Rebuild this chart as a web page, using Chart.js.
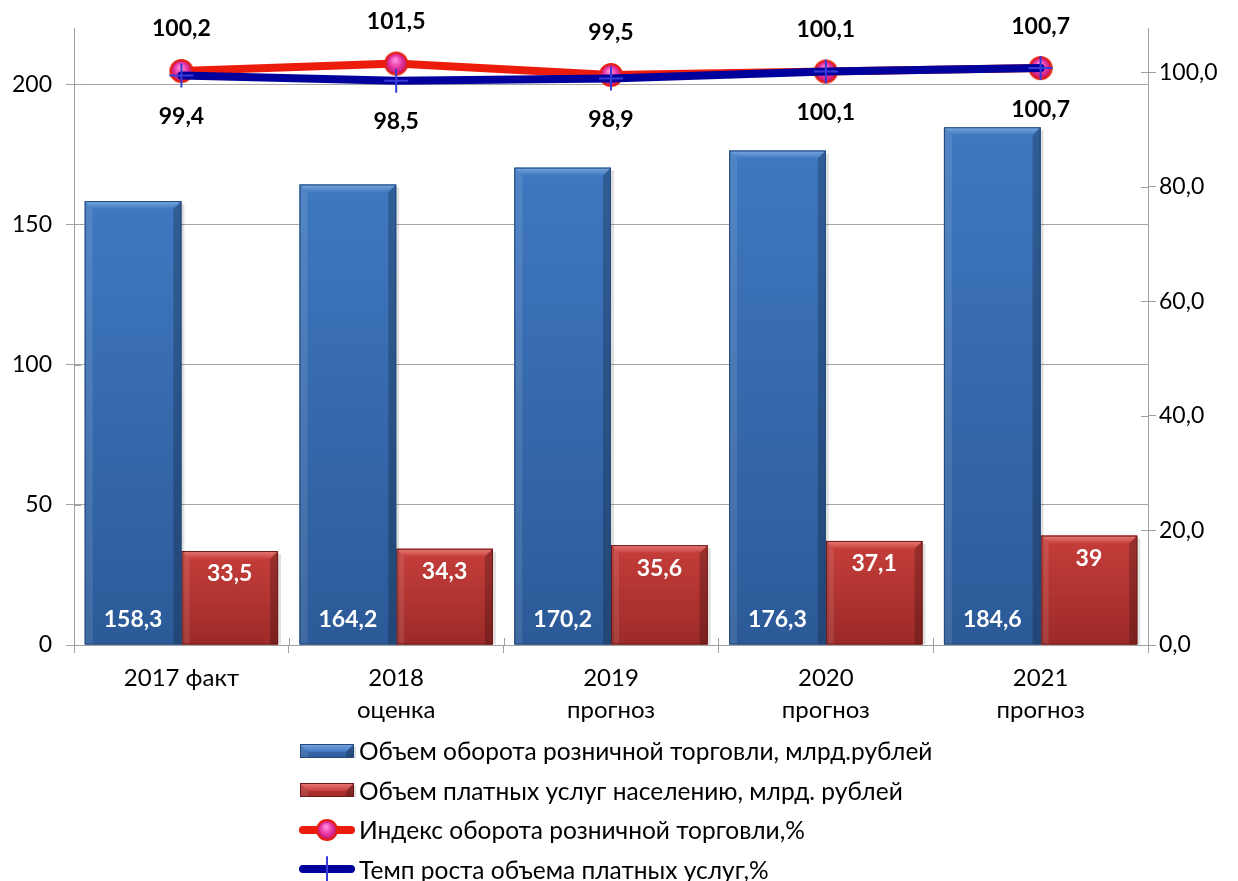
<!DOCTYPE html>
<html>
<head>
<meta charset="utf-8">
<script src="https://cdn.jsdelivr.net/npm/chart.js@4"></script>
<style>
  html, body { margin: 0; padding: 0; background: #fff; }
  #wrap { position: relative; width: 1238px; height: 881px; font-family: Lato, "Noto Sans", sans-serif; }
  #legend { position: absolute; left: 298px; top: 731px; }
  .li { display: flex; align-items: center; height: 39.5px; font-size: 24.5px; color: #000; white-space: nowrap; }
  .li canvas { margin-right: 3px; }
</style>
</head>
<body>
<div id="wrap">
  <canvas id="c" width="1238" height="881"></canvas>
  <div id="legend"></div>
</div>
<script>
const categories = [["2017 факт"], ["2018", "оценка"], ["2019", "прогноз"], ["2020", "прогноз"], ["2021", "прогноз"]];
const retailVolume = [158.3, 164.2, 170.2, 176.3, 184.6];
const servicesVolume = [33.5, 34.3, 35.6, 37.1, 39];
const retailIndex = [100.2, 101.5, 99.5, 100.1, 100.7];
const servicesGrowth = [99.4, 98.5, 98.9, 100.1, 100.7];
const leftTicks = [0, 50, 100, 150, 200];
const rightTicks = [0, 20, 40, 60, 80, 100];
const seriesNames = [
  "Объем оборота розничной торговли, млрд.рублей",
  "Объем платных услуг населению, млрд. рублей",
  "Индекс оборота розничной торговли,%",
  "Темп роста объема платных услуг,%"
];

const FONT = 'Lato, "Noto Sans", sans-serif';
const fmt = v => String(v).replace('.', ',');

function makeBall(r) {
  const s = r * 2 + 4;
  const cv = document.createElement('canvas');
  cv.width = s; cv.height = s;
  const g = cv.getContext('2d');
  const c = s / 2;
  const grad = g.createRadialGradient(c - r * 0.1, c - r * 0.35, r * 0.1, c, c, r);
  grad.addColorStop(0, '#ff8ad8');
  grad.addColorStop(0.5, '#e83aa8');
  grad.addColorStop(1, '#c01060');
  g.beginPath(); g.arc(c, c, r, 0, Math.PI * 2);
  g.fillStyle = grad; g.fill();
  g.lineWidth = 2; g.strokeStyle = '#e8200c'; g.stroke();
  return cv;
}
const ball = makeBall(11);

const barStyles = [
  { base: '#3a70b5', light: '#7aa8e0', dark: '#24497a', top: '#3f78c0', bottom: '#2c5a98' },
  { base: '#b83532', light: '#e87c78', dark: '#701a18', top: '#c63e3a', bottom: '#9c2a28' }
];

function bevelBar(ctx, el, st) {
  const l = el.x - el.width / 2, r = el.x + el.width / 2, t = el.y, b = el.base;
  const bw = 8;
  ctx.save();
  ctx.fillStyle = 'rgba(0,0,0,0.12)';
  ctx.fillRect(l + 3, t + 3, r - l, b - t - 3);
  const g = ctx.createLinearGradient(0, t, 0, b);
  g.addColorStop(0, st.top); g.addColorStop(1, st.bottom);
  ctx.fillStyle = g;
  ctx.fillRect(l, t, r - l, b - t);
  ctx.beginPath();
  ctx.moveTo(l, t); ctx.lineTo(r, t); ctx.lineTo(r - bw, t + bw); ctx.lineTo(l + bw, t + bw); ctx.closePath();
  const gt = ctx.createLinearGradient(0, t, 0, t + bw);
  gt.addColorStop(0, st.light); gt.addColorStop(1, st.top);
  ctx.fillStyle = gt; ctx.fill();
  ctx.beginPath();
  ctx.moveTo(l, t); ctx.lineTo(l + bw, t + bw); ctx.lineTo(l + bw, b); ctx.lineTo(l, b); ctx.closePath();
  ctx.fillStyle = 'rgba(255,255,255,0.10)'; ctx.fill();
  ctx.beginPath();
  ctx.moveTo(r, t); ctx.lineTo(r - bw, t + bw); ctx.lineTo(r - bw, b); ctx.lineTo(r, b); ctx.closePath();
  ctx.fillStyle = 'rgba(0,0,0,0.22)'; ctx.fill();
  ctx.strokeStyle = st.dark; ctx.lineWidth = 1;
  ctx.strokeRect(l + 0.5, t + 0.5, r - l - 1, b - t - 1);
  ctx.restore();
}

const barPlugin = {
  id: 'bevel',
  afterDatasetDraw(chart, args) {
    const i = args.index;
    if (i > 1) return;
    const meta = chart.getDatasetMeta(i);
    meta.data.forEach(el => bevelBar(chart.ctx, el, barStyles[i]));
  }
};

const labelPlugin = {
  id: 'vlabels',
  afterDatasetsDraw(chart) {
    const ctx = chart.ctx;
    ctx.save();
    ctx.font = 'bold 23px ' + FONT;
    ctx.textAlign = 'center';
    ctx.textBaseline = 'middle';
    chart.data.datasets.forEach((ds, i) => {
      const meta = chart.getDatasetMeta(i);
      meta.data.forEach((el, j) => {
        const v = fmt(ds.data[j]);
        let x = el.x, y;
        if (i === 0) { y = el.base - 25; ctx.fillStyle = '#fff'; }
        else if (i === 1) { y = el.y + 23; ctx.fillStyle = '#fff'; }
        else if (i === 2) { y = el.y - 42; ctx.fillStyle = '#000'; }
        else { y = el.y + 41; ctx.fillStyle = '#000'; }
        ctx.fillText(v, x, y);
      });
    });
    ctx.restore();
  }
};

const crossTicks = {
  id: 'crossTicks',
  afterDraw(chart) {
    const ctx = chart.ctx, x = chart.scales.x, ca = chart.chartArea;
    ctx.save();
    ctx.strokeStyle = '#a0a0a0'; ctx.lineWidth = 1;
    const n = x.ticks.length;
    for (let k = 0; k <= n; k++) {
      const px = Math.round(x.getPixelForValue(k - 0.5)) + 0.5;
      ctx.beginPath(); ctx.moveTo(px, ca.bottom - 7); ctx.lineTo(px, ca.bottom); ctx.stroke();
    }
    const yl = chart.scales.y, yr = chart.scales.y1;
    leftTicks.forEach(v => {
      const py = Math.round(yl.getPixelForValue(v)) + 0.5;
      ctx.beginPath(); ctx.moveTo(ca.left, py); ctx.lineTo(ca.left + 7, py); ctx.stroke();
    });
    rightTicks.forEach(v => {
      const py = Math.round(yr.getPixelForValue(v)) + 0.5;
      ctx.beginPath(); ctx.moveTo(ca.right - 7, py); ctx.lineTo(ca.right, py); ctx.stroke();
    });
    ctx.restore();
  }
};

const chart = new Chart(document.getElementById('c'), {
  data: {
    labels: categories,
    datasets: [
      { type: 'bar', label: seriesNames[0], data: retailVolume, backgroundColor: barStyles[0].base, yAxisID: 'y', order: 9, categoryPercentage: 0.9, barPercentage: 1.0 },
      { type: 'bar', label: seriesNames[1], data: servicesVolume, backgroundColor: barStyles[1].base, yAxisID: 'y', order: 10, categoryPercentage: 0.9, barPercentage: 1.0 },
      { type: 'line', label: seriesNames[2], data: retailIndex, yAxisID: 'y1', order: 2, borderColor: '#ec1c0c', borderWidth: 8, pointStyle: ball, pointRadius: 11, pointHoverRadius: 11, tension: 0, borderCapStyle: 'round' },
      { type: 'line', label: seriesNames[3], data: servicesGrowth, yAxisID: 'y1', order: 1, borderColor: '#00009c', borderWidth: 8, pointStyle: 'cross', pointRadius: 12, pointHoverRadius: 12, pointBorderColor: '#3a3ad8', pointBorderWidth: 2, tension: 0, borderCapStyle: 'round' }
    ]
  },
  options: {
    responsive: false,
    animation: false,
    layout: { padding: { top: 28, left: 0, right: 0, bottom: 0 } },
    plugins: { legend: { display: false }, tooltip: { enabled: false } },
    scales: {
      x: {
        offset: true,
        grid: { offset: true, drawOnChartArea: false, drawTicks: true, tickLength: 8, color: '#a0a0a0' },
        border: { color: '#a0a0a0' },
        ticks: { color: '#000', font: { family: FONT, size: 24, lineHeight: 1.3 }, padding: 10, maxRotation: 0 },
        afterFit(s) { s.height = 236; }
      },
      y: {
        position: 'left', min: 0, max: 220,
        afterBuildTicks(s) { s.ticks = leftTicks.map(v => ({ value: v })); },
        grid: { color: '#a6a6a6', tickLength: 8 },
        border: { color: '#a0a0a0' },
        ticks: { color: '#000', font: { family: FONT, size: 23 }, padding: 14 },
        afterFit(s) { s.width = 74; }
      },
      y1: {
        position: 'right', min: 0, max: 107.7,
        afterBuildTicks(s) { s.ticks = rightTicks.map(v => ({ value: v })); },
        grid: { drawOnChartArea: false, tickLength: 8, color: '#a0a0a0' },
        border: { color: '#a0a0a0' },
        ticks: { color: '#000', font: { family: FONT, size: 23 }, padding: 3, callback: v => v.toFixed(1).replace('.', ',') },
        afterFit(s) { s.width = 90; }
      }
    }
  },
  plugins: [barPlugin, labelPlugin, crossTicks]
});

function legendIcon(i) {
  const cv = document.createElement('canvas');
  cv.width = 58; cv.height = 26;
  const g = cv.getContext('2d');
  if (i < 2) {
    bevelBar(g, { x: 29, y: 6, base: 20, width: 54 }, barStyles[i]);
  } else {
    const ds = chart.data.datasets[i];
    g.strokeStyle = ds.borderColor; g.lineWidth = 8; g.lineCap = 'round';
    g.beginPath(); g.moveTo(5, 13); g.lineTo(53, 13); g.stroke();
    if (i === 2) {
      g.drawImage(makeBall(10), 29 - 12, 13 - 12);
    } else {
      g.strokeStyle = '#3a3ad8'; g.lineWidth = 2;
      g.beginPath(); g.moveTo(29, 1); g.lineTo(29, 25); g.stroke();
    }
  }
  return cv;
}
const leg = document.getElementById('legend');
seriesNames.forEach((name, i) => {
  const row = document.createElement('div');
  row.className = 'li';
  row.appendChild(legendIcon(i));
  const sp = document.createElement('span');
  sp.textContent = name;
  row.appendChild(sp);
  leg.appendChild(row);
});
</script>
</body>
</html>
